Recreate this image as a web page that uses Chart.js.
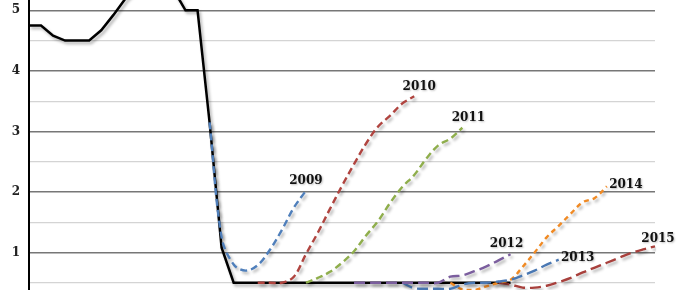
<!DOCTYPE html>
<html>
<head>
<meta charset="utf-8">
<script src="https://cdn.jsdelivr.net/npm/chart.js@4"></script>
<style>
    html, body { margin: 0; padding: 0; background: #fff; }
    #wrap { width: 680px; height: 290px; }
</style>
</head>
<body>
<div id="wrap"><canvas id="rateChart"></canvas></div>
<script>
// quarters from 2005 Q1 to 2018 Q1
const quarters = [];
for (let y = 2005; y <= 2018; y++) {
    for (let q = 1; q <= 4; q++) {
        if (y === 2018 && q > 1) break;
        quarters.push(y + ' Q' + q);
    }
}

// Bank Rate, quarterly (2005 Q1 .. 2015 Q1)
const bankRate = [4.75, 4.75, 4.58, 4.5, 4.5, 4.5, 4.67, 4.92, 5.19, 5.38,
    5.71, 5.69, 5.34, 5.0, 5.0, 3.15, 1.08, 0.5, 0.5, 0.5,
    0.5, 0.5, 0.5, 0.5, 0.5, 0.5, 0.5, 0.5, 0.5, 0.5,
    0.5, 0.5, 0.5, 0.5, 0.5, 0.5, 0.5, 0.5, 0.5, 0.5, 0.5];

// market forward curves, each one starts at the quarter given in curveStart
const curveNames = ['2009', '2010', '2011', '2012', '2013', '2014', '2015'];
const curveStart = [15, 19, 23, 27, 31, 35, 39];
const curve2009 = [3.15, 1.25, 0.80, 0.70, 0.79, 1.04, 1.37, 1.74, 2.02];
const curve2010 = [0.5, 0.5, 0.5, 0.6, 0.97, 1.33, 1.72, 2.1, 2.46, 2.8, 3.08, 3.26, 3.46, 3.58];
const curve2011 = [0.5, 0.58, 0.68, 0.83, 1.02, 1.28, 1.52, 1.82, 2.08, 2.28, 2.55, 2.77, 2.88, 3.06];
const curve2012 = [0.5, 0.5, 0.5, 0.5, 0.5, 0.5, 0.5, 0.5, 0.6, 0.62, 0.69, 0.77, 0.87, 0.97];
const curve2013 = [0.5, 0.41, 0.4, 0.4, 0.4, 0.47, 0.5, 0.5, 0.52, 0.55, 0.62, 0.7, 0.8, 0.88];
const curve2014 = [0.5, 0.39, 0.38, 0.44, 0.5, 0.55, 0.76, 1.0, 1.25, 1.44, 1.64, 1.83, 1.9, 2.09];
const curve2015 = [0.5, 0.47, 0.42, 0.42, 0.45, 0.51, 0.58, 0.67, 0.75, 0.83, 0.91, 0.99, 1.05, 1.1];
const curves = [curve2009, curve2010, curve2011, curve2012, curve2013, curve2014, curve2015];

const yLabels = [1, 2, 3, 4, 5];

const curveColors = ['#4f7fbb', '#b0443f', '#8fae4c', '#7b5e9e', '#4a78b3', '#f08a24', '#a8403c'];
const curveDash = [[7, 4], [7, 4], [7, 4], [11, 5], [11, 5], [5, 4], [11, 5]];
// where each year label sits, relative to the last point of its curve
const labelOffset = [[0, -10], [5, -9], [6, -10], [-4, -10], [19, -2], [19, -2], [3, -8]];

function padSeries(values, start) {
    const out = new Array(quarters.length).fill(null);
    values.forEach((v, i) => { out[start + i] = v; });
    return out;
}

const shadowPlugin = {
    id: 'lineShadow',
    beforeDatasetDraw(chart) {
        const { ctx } = chart;
        ctx.save();
        ctx.shadowColor = 'rgba(0,0,0,0.3)';
        ctx.shadowBlur = 3;
        ctx.shadowOffsetX = 2;
        ctx.shadowOffsetY = 2.5;
    },
    afterDatasetDraw(chart) {
        chart.ctx.restore();
    }
};

const textPlugin = {
    id: 'yearLabels',
    afterDatasetsDraw(chart) {
        const { ctx } = chart;
        const yScale = chart.scales.y;
        ctx.save();
        // y axis numbers
        ctx.font = 'bold 12px "DejaVu Serif", Georgia, serif';
        ctx.textAlign = 'right';
        ctx.textBaseline = 'middle';
        ctx.fillStyle = '#222';
        yLabels.forEach(v => {
            ctx.fillText(String(v), yScale.right - 9, yScale.getPixelForValue(v));
        });
        // year names next to each curve
        ctx.textAlign = 'center';
        ctx.fillStyle = '#111';
        ctx.shadowColor = 'rgba(0,0,0,0.25)';
        ctx.shadowBlur = 2;
        ctx.shadowOffsetX = 1;
        ctx.shadowOffsetY = 1;
        curveNames.forEach((name, i) => {
            const meta = chart.getDatasetMeta(i);
            const last = curveStart[i] + curves[i].length - 1;
            const pt = meta.data[last];
            ctx.fillText(name, pt.x + labelOffset[i][0], pt.y + labelOffset[i][1]);
        });
        ctx.restore();
    }
};

Chart.register(shadowPlugin, textPlugin);

const datasets = curves.map((values, i) => ({
    label: curveNames[i],
    data: padSeries(values, curveStart[i]),
    borderColor: curveColors[i],
    borderWidth: 2.4,
    borderDash: curveDash[i],
    tension: 0.35,
    pointRadius: 0,
    fill: false
}));

datasets.push({
    label: 'Bank Rate',
    data: padSeries(bankRate, 0),
    borderColor: '#000',
    borderWidth: 2.5,
    tension: 0,
    pointRadius: 0,
    fill: false
});

new Chart(document.getElementById('rateChart'), {
    type: 'line',
    data: { labels: quarters, datasets },
    options: {
        responsive: true,
        maintainAspectRatio: false,
        animation: false,
        layout: { padding: 0 },
        plugins: {
            legend: { display: false },
            tooltip: { enabled: false }
        },
        scales: {
            x: {
                display: false,
                offset: false,
                afterFit(scale) { scale.paddingRight = 25; }
            },
            y: {
                min: 0.38,
                max: 5.17,
                afterFit(scale) { scale.width = 29; },
                border: { color: '#000', width: 2 },
                grid: {
                    drawTicks: false,
                    color: ctx => (ctx.tick && ctx.tick.value % 1 === 0) ? '#777' : '#d4d4d4',
                    lineWidth: ctx => (ctx.tick && ctx.tick.value % 1 === 0) ? 1.4 : 1.2
                },
                ticks: {
                    display: false,
                    stepSize: 0.5,
                    includeBounds: false
                }
            }
        }
    }
});
</script>
</body>
</html>
